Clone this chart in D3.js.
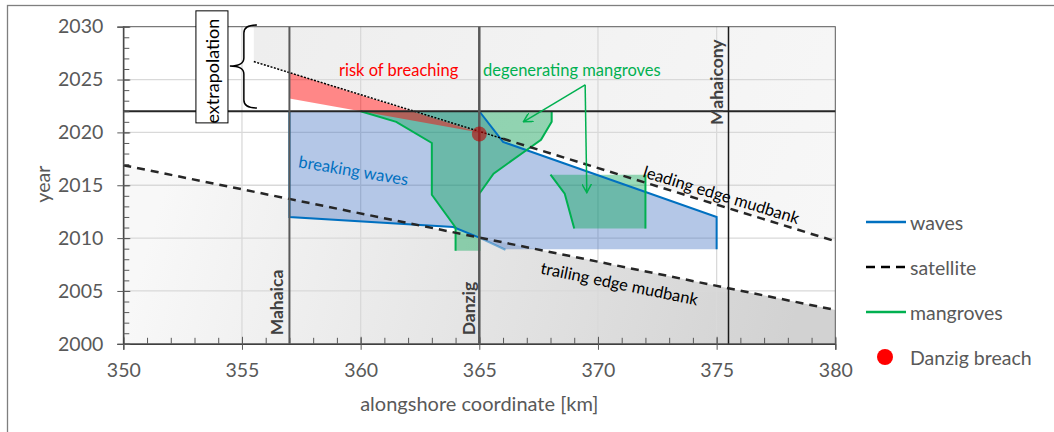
<!DOCTYPE html>
<html>
<head>
<meta charset="utf-8">
<script src="https://cdn.jsdelivr.net/npm/d3@7"></script>
<style>
  body { margin: 0; background: #fff; }
  svg { display: block; font-family: Lato, "Open Sans", sans-serif; }
</style>
</head>
<body>
<svg id="chart" width="1054" height="432"></svg>
<script>
// ---- data (km alongshore, year) ----
const xTicks = [350, 355, 360, 365, 370, 375, 380];
const yTicks = [2000, 2005, 2010, 2015, 2020, 2025, 2030];
const xMinor = d3.range(350, 381, 1);
const yMinor = d3.range(2000, 2031, 1);

const sites = [
  { name: "Mahaica", km: 357, labelKm: 356.45, labelYear: 2000.8, color: "#595959", width: 2 },
  { name: "Danzig", km: 365, labelKm: 364.55, labelYear: 2000.8, color: "#595959", width: 2.5 },
  { name: "Mahaicony", km: 375.5, labelKm: 375.0, labelYear: 2020.7, color: "#1a1a1a", width: 1.5 }
];
const presentYear = 2022;

const leadingDotted = [[355.5, 2026.7], [366, 2019.4]];
const leadingDashed = [[366, 2019.4], [380, 2009.7]];
const trailingEdge = [[350, 2016.9], [380, 2003.2]];

const wavesArea = [[357, 2022], [365, 2022], [366, 2019.1], [375, 2012], [375, 2008.95],
  [366.1, 2008.95], [365, 2010.05], [363.9, 2011.05], [357, 2012]];
const wavesLineA = [[365, 2022], [366, 2019.1], [375, 2012], [375, 2008.95]];
const wavesLineB = [[357, 2022], [357, 2012], [363.9, 2011.05], [365, 2010.05]];
const wavesLineC = [[365, 2010.05], [366.1, 2008.9]];

const mangroveLeft = [[360, 2022], [361.5, 2021], [363, 2019], [363, 2014.1], [364, 2011], [364, 2008.8]];
const mangroveRight = [[365, 2008.8], [365, 2014.2], [365.6, 2016.1], [367.1, 2018.5],
  [367.6, 2019.3], [368.05, 2021], [368.05, 2022]];
const mangroveB = [[368, 2016], [372, 2016], [372, 2010.9], [369, 2010.9], [368.6, 2014.2]];
const mangroveBLeft = [[368, 2016], [368.6, 2014.2], [369, 2010.9]];
const mangroveBRight = [[372, 2016], [372, 2010.9]];

const riskArea = [[357, 2025.66], [365, 2020.0], [357, 2023.2]];
const breach = [365, 2019.85];

const arrowStart = [369.46, 2024.5];
const arrowEnds = [[366.86, 2021.0], [369.53, 2014.3]];

const labels = [
  { text: "risk of breaching", km: 361.6, year: 2025.9, angle: 0, color: "#ff0000" },
  { text: "degenerating mangroves", km: 368.9, year: 2025.9, angle: 0, color: "#00b050" },
  { text: "breaking waves", km: 359.7, year: 2016.4, angle: 9.5, color: "#0070c0" },
  { text: "leading edge mudbank", km: 375.2, year: 2014.1, angle: 17, color: "#000" },
  { text: "trailing edge mudbank", km: 370.9, year: 2005.7, angle: 11.5, color: "#000" }
];

const legendItems = ["waves", "satellite", "mangroves", "Danzig breach"];

// ---- setup ----
const svg = d3.select("#chart");
const x = d3.scaleLinear().domain([350, 380]).range([123.3, 835.3]);
const y = d3.scaleLinear().domain([2000, 2030]).range([343.8, 26.7]);
const line = d3.line().x(d => x(d[0])).y(d => y(d[1]));
const area = d3.line().x(d => x(d[0])).y(d => y(d[1])).curve(d3.curveLinearClosed);

const GREEN = "#00b050", BLUE = "#0070c0";

// outer frame
svg.append("rect").attr("x", 7.5).attr("y", 5.5).attr("width", 1100).attr("height", 500)
  .attr("fill", "#fff").attr("stroke", "#7f7f7f").attr("stroke-width", 1.3);

const defs = svg.append("defs");
const gLow = defs.append("linearGradient").attr("id", "gLow")
  .attr("gradientUnits", "userSpaceOnUse")
  .attr("x1", x(352)).attr("y1", y(2017)).attr("x2", x(378)).attr("y2", y(2000));
gLow.append("stop").attr("offset", 0).attr("stop-color", "#f8f8f8");
gLow.append("stop").attr("offset", 1).attr("stop-color", "#d2d2d2");
const gUp = defs.append("linearGradient").attr("id", "gUp")
  .attr("gradientUnits", "userSpaceOnUse")
  .attr("x1", x(356)).attr("y1", y(2030)).attr("x2", x(380)).attr("y2", y(2010));
gUp.append("stop").attr("offset", 0).attr("stop-color", "#eeeeee");
gUp.append("stop").attr("offset", 1).attr("stop-color", "#f7f7f7");
defs.append("marker").attr("id", "arrow").attr("viewBox", "0 0 10 10")
  .attr("refX", 9).attr("refY", 5).attr("markerWidth", 10).attr("markerHeight", 10)
  .attr("markerUnits", "userSpaceOnUse").attr("orient", "auto")
  .append("path").attr("d", "M0,0 L9,5 L0,10").attr("fill", "none")
  .attr("stroke", GREEN).attr("stroke-width", 1.5);

// gray mudbank regions
const upperGray = [[leadingDotted[0][0], 2030], ...leadingDotted, leadingDashed[1], [380, 2030]];
svg.append("path").attr("d", area(upperGray)).attr("fill", "url(#gUp)");
const lowerGray = [...trailingEdge, [380, 2000], [350, 2000]];
svg.append("path").attr("d", area(lowerGray)).attr("fill", "url(#gLow)");

// gridlines
svg.append("g").selectAll("line").data(xTicks.slice(1, -1)).join("line")
  .attr("x1", d => x(d)).attr("x2", d => x(d)).attr("y1", y(2000)).attr("y2", y(2030))
  .attr("stroke", "#d9d9d9").attr("stroke-width", 1.3);
svg.append("g").selectAll("line").data(yTicks.slice(1, -1)).join("line")
  .attr("x1", x(350)).attr("x2", x(380)).attr("y1", d => y(d)).attr("y2", d => y(d))
  .attr("stroke", "#d9d9d9").attr("stroke-width", 1.3);

// plot border
svg.append("rect").attr("x", x(350)).attr("y", y(2030)).attr("width", x(380) - x(350))
  .attr("height", y(2000) - y(2030)).attr("fill", "none").attr("stroke", "#595959").attr("stroke-width", 1);

// waves area
svg.append("path").attr("d", area(wavesArea)).attr("fill", "rgba(68,114,196,0.4)");
// mangroves
svg.append("path").attr("d", area([...mangroveLeft, ...mangroveRight])).attr("fill", "rgba(0,166,81,0.4)");
svg.append("path").attr("d", area(mangroveB)).attr("fill", "rgba(0,166,81,0.4)");
// risk of breaching
svg.append("path").attr("d", area(riskArea)).attr("fill", "rgba(255,0,0,0.47)");

// outlines
[wavesLineA, wavesLineB].forEach(l => svg.append("path").attr("d", line(l))
  .attr("fill", "none").attr("stroke", BLUE).attr("stroke-width", 2));
svg.append("path").attr("d", line(wavesLineC)).attr("fill", "none")
  .attr("stroke", BLUE).attr("stroke-opacity", 0.5).attr("stroke-width", 2);
[mangroveLeft, mangroveRight, mangroveBLeft, mangroveBRight].forEach(l => svg.append("path")
  .attr("d", line(l)).attr("fill", "none").attr("stroke", GREEN).attr("stroke-width", 2));

// mudbank edges
svg.append("path").attr("d", line(leadingDotted)).attr("fill", "none")
  .attr("stroke", "#000").attr("stroke-width", 1.5).attr("stroke-dasharray", "2,1.5");
svg.append("path").attr("d", line(leadingDashed)).attr("fill", "none")
  .attr("stroke", "#262626").attr("stroke-width", 2.5).attr("stroke-dasharray", "8,6");
svg.append("path").attr("d", line(trailingEdge)).attr("fill", "none")
  .attr("stroke", "#262626").attr("stroke-width", 2.5).attr("stroke-dasharray", "8,6");

// present year and sites
svg.append("line").attr("x1", x(350)).attr("x2", x(380)).attr("y1", y(presentYear)).attr("y2", y(presentYear))
  .attr("stroke", "#262626").attr("stroke-width", 2);
svg.append("g").selectAll("line").data(sites).join("line")
  .attr("x1", d => x(d.km)).attr("x2", d => x(d.km)).attr("y1", y(2000)).attr("y2", y(2030))
  .attr("stroke", d => d.color).attr("stroke-width", d => d.width);
svg.append("g").selectAll("text").data(sites).join("text")
  .attr("transform", d => `translate(${x(d.labelKm)},${y(d.labelYear)}) rotate(-90)`)
  .attr("dominant-baseline", "central").attr("font-weight", "bold").attr("font-size", 17.5)
  .attr("fill", "#404040").text(d => d.name);

// breach
svg.append("circle").attr("cx", x(breach[0])).attr("cy", y(breach[1])).attr("r", 7.5)
  .attr("fill", "#c00000").attr("fill-opacity", 0.6);

// arrows
svg.append("g").selectAll("line").data(arrowEnds).join("line")
  .attr("x1", x(arrowStart[0])).attr("y1", y(arrowStart[1]))
  .attr("x2", d => x(d[0])).attr("y2", d => y(d[1]))
  .attr("stroke", GREEN).attr("stroke-width", 1.5).attr("marker-end", "url(#arrow)");

// annotations
svg.append("g").selectAll("text").data(labels).join("text")
  .attr("transform", d => `translate(${x(d.km)},${y(d.year)}) rotate(${d.angle})`)
  .attr("text-anchor", "middle").attr("dominant-baseline", "central")
  .attr("font-size", 16.5).attr("fill", d => d.color).text(d => d.text);

// axes
const xAxis = svg.append("g").attr("transform", `translate(0,${y(2000)})`)
  .call(d3.axisBottom(x).tickValues(xTicks).tickSize(6).tickPadding(13).tickFormat(d3.format("d")));
xAxis.selectAll(".tick line").attr("y1", -7).attr("stroke", "#595959");
svg.append("g").attr("transform", `translate(0,${y(2000)})`)
  .call(d3.axisBottom(x).tickValues(xMinor).tickSize(-6).tickFormat(""))
  .call(g => g.select(".domain").remove())
  .selectAll(".tick line").attr("stroke", "#595959");
const yAxis = svg.append("g").attr("transform", `translate(${x(350)},0)`)
  .call(d3.axisLeft(y).tickValues(yTicks).tickSize(6).tickPadding(14).tickFormat(d3.format("d")));
yAxis.selectAll(".tick line").attr("x1", 7).attr("stroke", "#595959");
svg.append("g").attr("transform", `translate(${x(350)},0)`)
  .call(d3.axisLeft(y).tickValues(yMinor).tickSize(-6).tickFormat(""))
  .call(g => g.select(".domain").remove())
  .selectAll(".tick line").attr("stroke", "#595959");
[xAxis, yAxis].forEach(a => {
  a.select(".domain").attr("stroke", "#404040").attr("stroke-width", 1.3);
  a.selectAll(".tick text").attr("font-size", 19.5).attr("fill", "#595959")
    .attr("font-family", "Lato, sans-serif");
});

svg.append("text").attr("x", x(365)).attr("y", 411).attr("text-anchor", "middle")
  .attr("font-size", 20).attr("fill", "#595959").text("alongshore coordinate [km]");
svg.append("text").attr("transform", `translate(42,${y(2015.1)}) rotate(-90)`)
  .attr("text-anchor", "middle").attr("dominant-baseline", "central")
  .attr("font-size", 19.5).attr("fill", "#595959").text("year");

// extrapolation box and brace
svg.append("rect").attr("x", x(353.06)).attr("y", y(2031.5)).attr("width", x(354.41) - x(353.06))
  .attr("height", y(2020.9) - y(2031.5)).attr("fill", "#fff").attr("stroke", "#000").attr("stroke-width", 1);
svg.append("text")
  .attr("transform", `translate(${x(353.735)},${y(2025.8)}) rotate(-90)`)
  .attr("text-anchor", "middle").attr("dominant-baseline", "central")
  .attr("font-size", 18).attr("fill", "#000").text("extrapolation");
const bxR = x(355.63), bxM = x(355.08), bxT = x(354.49);
const byT = y(2030.16), byB = y(2022.3), byM = y(2026.28);
svg.append("path")
  .attr("d", `M${bxR},${byT} Q${bxM},${byT} ${bxM},${byT + 8} L${bxM},${byM - 8} Q${bxM},${byM} ${bxT},${byM}` +
    ` Q${bxM},${byM} ${bxM},${byM + 8} L${bxM},${byB - 8} Q${bxM},${byB} ${bxR},${byB}`)
  .attr("fill", "none").attr("stroke", "#000").attr("stroke-width", 1.5);

// legend
const legend = svg.append("g").attr("transform", "translate(866,222)");
const li = legend.selectAll("g").data(legendItems).join("g")
  .attr("transform", (d, i) => `translate(0,${i * 45})`);
li.filter((d, i) => i < 3).append("line").attr("x1", 0).attr("x2", 40)
  .attr("stroke", (d, i) => [BLUE, "#000", GREEN][i]).attr("stroke-width", 2.5)
  .attr("stroke-dasharray", (d, i) => i === 1 ? "9,6" : null);
li.filter((d, i) => i === 3).append("circle").attr("cx", 19).attr("r", 8).attr("fill", "#ff0000");
li.append("text").attr("x", 44).attr("dominant-baseline", "central")
  .attr("font-size", 19.5).attr("fill", "#595959").text(d => d);
</script>
</body>
</html>
